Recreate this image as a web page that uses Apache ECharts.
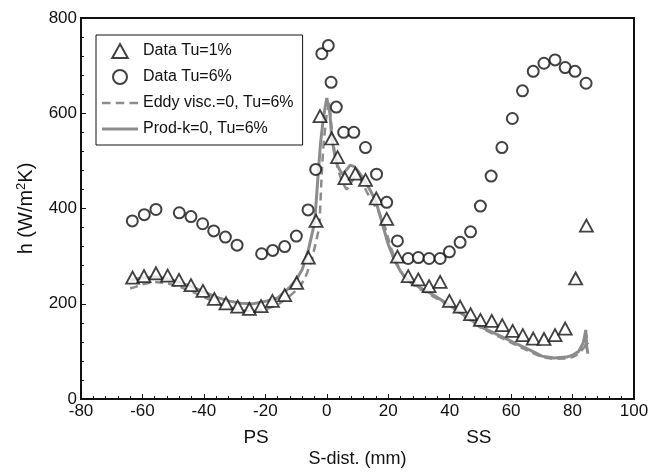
<!DOCTYPE html>
<html><head><meta charset="utf-8">
<script src="https://cdn.jsdelivr.net/npm/echarts@6/dist/echarts.min.js"></script>
<style>html,body{margin:0;padding:0;background:#fff}#c{width:660px;height:474px}</style>
</head><body><div id="c"></div>
<script>
// Data Tu=1% (triangles)
const tu1X = [-63.2,-59.5,-55.6,-51.8,-48.1,-44.2,-40.3,-36.6,-32.8,-29.0,-25.2,-21.4,-17.7,-13.7,-9.8,-6.0,-3.5,-2.2,1.6,3.5,5.9,9.3,12.6,16.1,19.5,23.0,26.5,29.8,33.3,36.9,39.9,43.4,46.8,50.0,53.7,57.1,60.5,63.8,67.2,70.7,74.3,77.6,81.0,84.5];
const tu1Y = [255,258,264,259,250,239,227,210,201,194,189,195,206,218,244,297,374,594,547,508,464,473,460,421,378,299,258,251,237,246,206,194,178,166,164,155,143,134,127,126,134,148,253,364];
// Data Tu=6% (circles)
const tu6X = [-63.3,-59.4,-55.6,-48.0,-44.2,-40.4,-36.8,-33.0,-29.2,-21.2,-17.6,-13.7,-9.9,-6.1,-3.6,-1.6,0.5,1.4,3.1,5.5,8.8,12.6,16.2,19.5,23.0,26.5,29.8,33.3,36.9,39.9,43.4,46.8,50.0,53.5,57.0,60.4,63.7,67.2,70.7,74.3,77.6,80.8,84.4];
const tu6Y = [374,387,398,391,383,368,353,340,323,305,312,320,342,397,482,725,742,665,613,560,560,528,472,413,332,295,297,295,295,309,329,351,405,468,528,589,647,688,705,712,696,688,663];
// Eddy visc.=0, Tu=6% (dashed)
const eddyX = [-64,-62,-60,-56,-52,-48,-44,-40,-36,-32,-28,-24,-20,-16,-13,-10,-8.7,-7,-4.9,-3.5,-2.4,-1.6,-1,0,0.8,1.5,2.5,3.5,5,6.5,8,9.5,11,13,15,17,19,21,23,25,27,30,34,38,42,46,50,54,58,62,66,70,74,78,80,82,84,84.5,85];
const eddyY = [232,236,241,246,243,236,226,214,202,193,186,184,188,198,211,228,236,255,292,330,362,481,540,600,622,575,520,485,455,440,455,470,462,435,412,392,360,315,282,258,245,232,218,203,187,168,150,137,125,112,100,88,84,85,88,95,110,135,115];
// Prod-k=0, Tu=6% (solid)
const prodX = [-64,-62,-60,-56,-52,-48,-44,-40,-36,-32,-28,-24,-20,-16,-12,-10,-8,-6,-4.5,-3.8,-2.7,-2,-1,0,0.4,1,1.6,2.5,3.5,5,6.5,7.6,9,10,12,14,16,18,20,22,24,26,28,30,34,38,42,46,50,54,58,62,66,70,74,78,80,82,83.5,84.3,84.6,85];
const prodY = [250,252,254,256,252,245,236,225,214,206,201,200,205,212,235,250,272,313,355,383,481,540,595,632,635,600,551,515,490,472,482,491,488,480,462,440,415,370,325,292,268,252,243,235,221,205,188,170,152,140,128,115,103,90,86,88,92,100,118,145,110,95];
// Axis ticks
const xMin = -80, xMax = 100, xStep = 20;
const yMin = 0, yMax = 800, yStep = 200;
const sideLabels = [{text:'PS', x:-23}, {text:'SS', x:49.5}];

const pairs = (xs, ys) => xs.map((x, i) => [x, ys[i]]);
const FONT = '"Liberation Sans", Arial, sans-serif';
const INK = '#111';
const GRAY = '#8c8c8c';

const chart = echarts.init(document.getElementById('c'));
chart.setOption({
  animation: false,
  grid: {left: 81, right: 26, top: 18, bottom: 75, show: true, borderColor: INK, borderWidth: 2},
  xAxis: {
    type: 'value', min: xMin, max: xMax, interval: xStep,
    axisLine: {onZero: false, lineStyle: {color: INK, width: 2}},
    axisTick: {inside: true, length: 5, lineStyle: {color: INK, width: 1}},
    minorTick: {show: true, splitNumber: 5, length: 3, lineStyle: {color: INK, width: 1}},
    splitLine: {show: false},
    axisLabel: {color: INK, fontSize: 17, fontFamily: FONT, margin: 4},
    name: 'S-dist. (mm)', nameLocation: 'middle', nameGap: 51,
    nameTextStyle: {color: INK, fontSize: 18, fontFamily: FONT}
  },
  yAxis: {
    type: 'value', min: yMin, max: yMax, interval: yStep,
    axisLine: {onZero: false, lineStyle: {color: INK, width: 2}},
    axisTick: {inside: true, length: 5, lineStyle: {color: INK, width: 1}},
    minorTick: {show: true, splitNumber: 5, length: 3, lineStyle: {color: INK, width: 1}},
    splitLine: {show: false},
    axisLabel: {color: INK, fontSize: 17, fontFamily: FONT, margin: 4},
    name: 'h (W/m{sup|2}K)', nameLocation: 'middle', nameGap: 44,
    nameTextStyle: {color: INK, fontSize: 20, fontFamily: FONT,
      rich: {sup: {fontSize: 13, fontFamily: FONT, color: INK, verticalAlign: 'top', padding: [0, 0, 9, 0]}}}
  },
  legend: {
    orient: 'vertical', left: 96, top: 35,
    padding: [8, 9, 8, 6], itemGap: 10, itemWidth: 36, itemHeight: 14,
    borderColor: INK, borderWidth: 1, backgroundColor: '#fff',
    textStyle: {color: INK, fontSize: 16, fontFamily: FONT, lineHeight: 14},
    data: [
      {name: 'Data Tu=1%', icon: 'path://M5,0L10,9L0,9Z'},
      {name: 'Data Tu=6%', icon: 'circle'},
      {name: 'Eddy visc.=0, Tu=6%', icon: 'path://M0,0h8v2.5h-8zM13,0h8v2.5h-8zM26,0h8v2.5h-8z'},
      {name: 'Prod-k=0, Tu=6%', icon: 'path://M0,0h34v3h-34z'}
    ]
  },
  series: [
    {name: 'Eddy visc.=0, Tu=6%', type: 'line', data: pairs(eddyX, eddyY), symbol: 'none', z: 2,
     lineStyle: {color: GRAY, width: 2.5, type: [8, 5]}, itemStyle: {color: GRAY}},
    {name: 'Prod-k=0, Tu=6%', type: 'line', data: pairs(prodX, prodY), symbol: 'none', z: 3,
     lineStyle: {color: GRAY, width: 3}, itemStyle: {color: GRAY}},
    {name: 'Data Tu=1%', type: 'scatter', data: pairs(tu1X, tu1Y), symbol: 'triangle', symbolSize: [13, 12], z: 5,
     itemStyle: {color: '#fff', borderColor: INK, borderWidth: 1.8}},
    {name: 'Data Tu=6%', type: 'scatter', data: pairs(tu6X, tu6Y), symbol: 'circle', symbolSize: 11, z: 5,
     itemStyle: {color: '#fff', borderColor: INK, borderWidth: 2}}
  ]
});
const labels = sideLabels.map(s => ({
  type: 'text', x: chart.convertToPixel({xAxisIndex: 0}, s.x), y: 438,
  style: {text: s.text, fill: INK, font: '19px ' + FONT, align: 'center', verticalAlign: 'middle'}
}));
chart.setOption({graphic: labels});
</script></body></html>
